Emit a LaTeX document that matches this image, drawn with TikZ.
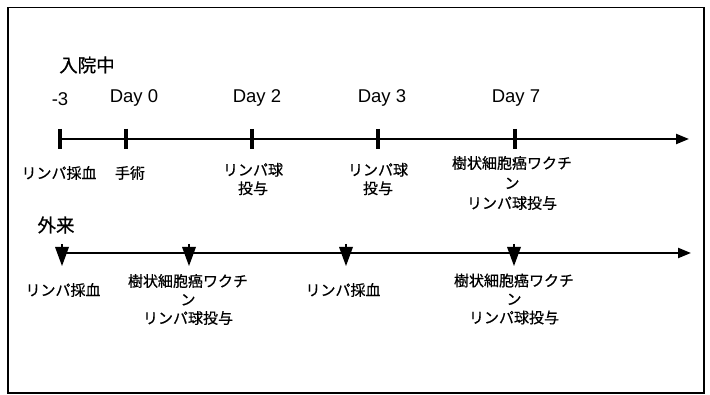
\documentclass[tikz,border=0pt]{standalone}
\usepackage{fontspec}
\setmainfont{Liberation Sans}
\newfontfamily\jp[FakeBold=0.6]{Noto Sans CJK JP}
\usetikzlibrary{arrows.meta}
\begin{document}
\begin{tikzpicture}[x=1pt,y=-1pt,
  daylbl/.style={font=\fontsize{18.5}{20}\selectfont, inner sep=0pt},
  jplbl/.style={font=\jp\fontsize{15}{18.5}\selectfont, align=center, inner sep=0pt},
  jplblw/.style={font=\jp\fontsize{15}{20}\selectfont, align=center, inner sep=0pt},
  titlelbl/.style={font=\jp\fontsize{18.5}{20}\selectfont, inner sep=0pt},
  axisline/.style={line width=2.2pt, -{Triangle[length=13pt,width=10pt]}},
  tickmark/.style={line width=3.4pt},
  downmark/.pic={\fill (-7,-6) -- (7,-6) -- (0,13) -- cycle; \draw[line width=2.4pt] (0,-9) -- (0,0);}
]
\useasboundingbox (0,0) rectangle (710,395);
\draw[line width=1.2pt] (8,7.5) rectangle (704,393);

% --- 入院中 ---
\node[titlelbl] (t1) at (87,65) {入院中};
\coordinate (s1) at (60,139);
\coordinate (e1) at (689,139);
\draw[axisline] (s1) -- (e1);
\foreach \n/\x in {a/60,b/126,c/252,d/378,e/515}{
  \coordinate (k\n) at (\x,139);
  \draw[tickmark] (k\n) ++(0,-10) -- ++(0,20);
}
\draw[line width=4.6pt] (kb) ++(0,-10) -- ++(0,20);
\node[daylbl] (d1) at (60,99) {-3};
\node[daylbl] (d2) at (134,98) {Day 0};
\node[daylbl] (d3) at (257,98) {Day 2};
\node[daylbl] (d4) at (382,98) {Day 3};
\node[daylbl] (d5) at (516,98) {Day 7};
\node[jplbl] (l1) at (59,173) {リンパ採血};
\node[jplbl] (l2) at (130,173) {手術};
\node[jplbl] (l3) at (253,179) {リンパ球\\投与};
\node[jplbl] (l4) at (378,179) {リンパ球\\投与};
\node[jplblw] (l5) at (512,183) {樹状細胞癌ワクチ\\ン\\リンパ球投与};

% --- 外来 ---
\node[titlelbl] (t2) at (56,225) {外来};
\coordinate (s2) at (60,253);
\coordinate (e2) at (691,253);
\draw[axisline] (s2) -- (e2);
\foreach \n/\x in {a/62,b/189,c/346,d/514}{
  \coordinate (m\n) at (\x,253);
  \pic at (m\n) {downmark};
}
\node[jplbl] (r1) at (63,290) {リンパ採血};
\node[jplbl] (r2) at (188,299.5) {樹状細胞癌ワクチ\\ン\\リンパ球投与};
\node[jplbl] (r3) at (343,290) {リンパ採血};
\node[jplbl] (r4) at (514,299) {樹状細胞癌ワクチ\\ン\\リンパ球投与};
\end{tikzpicture}
\end{document}
